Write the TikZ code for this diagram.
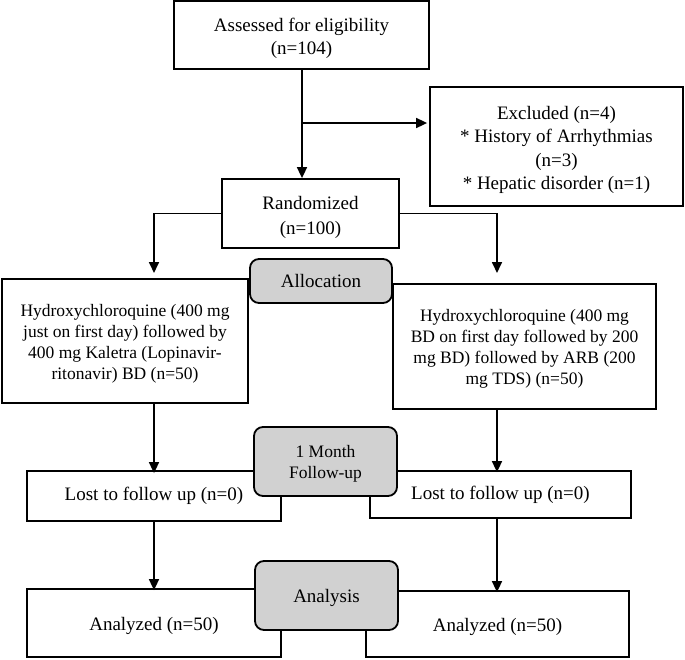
\documentclass[tikz,border=0pt]{standalone}
\usepackage{fontspec}
\setmainfont{Liberation Serif}
\usetikzlibrary{arrows.meta}
\newcommand\upA{\rule{0pt}{20pt}}
\newcommand\upB{\rule{0pt}{17.5pt}}
\begin{document}
\begin{tikzpicture}[x=1pt,y=-1pt,
  box/.style={draw=black,line width=1.8pt,fill=white,inner sep=0pt,align=center},
  stage/.style={draw=black,line width=1.8pt,fill=black!18,rounded corners=9pt,inner sep=0pt,align=center},
  bigtxt/.style={font=\fontsize{19}{23.5}\selectfont},
  smalltxt/.style={font=\fontsize{17.5}{21}\selectfont},
  arr/.style={line width=1.7pt,-{Triangle[length=11pt,width=10pt]}}]
\useasboundingbox (0,0) rectangle (685,659);
% white boxes
\node[box,bigtxt,minimum width=255pt,minimum height=68pt] (assess) at (301.5,35) {\upA Assessed for eligibility\\(n=104)};
\node[box,bigtxt,minimum width=253pt,minimum height=119pt] (excl) at (556.5,146.5) {\upA Excluded (n=4)\\* History of Arrhythmias\\(n=3)\\* Hepatic disorder (n=1)};
\node[box,font=\fontsize{19}{24.5}\selectfont,minimum width=177pt,minimum height=69pt] (rand) at (310.5,213.5) {\rule{0pt}{21pt}Randomized\\(n=100)};
\node[box,smalltxt,minimum width=246pt,minimum height=124pt] (hcqL) at (125,341) {\upB Hydroxychloroquine (400 mg\\just on first day) followed by\\400 mg Kaletra (Lopinavir-\\ritonavir) BD (n=50)};
\node[box,smalltxt,minimum width=263pt,minimum height=125pt] (hcqR) at (524.5,346.5) {\upB Hydroxychloroquine (400 mg\\BD on first day followed by 200\\mg BD) followed by ARB (200\\mg TDS) (n=50)};
\node[box,bigtxt,minimum width=254pt,minimum height=50pt] (lostL) at (154,496) {\raisebox{3pt}{Lost to follow up (n=0)}};
\node[box,bigtxt,minimum width=261pt,minimum height=47pt] (lostR) at (500.5,494.5) {\raisebox{2pt}{Lost to follow up (n=0)}};
\node[box,bigtxt,minimum width=254pt,minimum height=68pt] (anL) at (154,623) {\upA Analyzed (n=50)};
\node[box,bigtxt,minimum width=263pt,minimum height=66pt] (anR) at (497.5,624) {\upA Analyzed (n=50)};
% stage boxes
\node[stage,bigtxt,minimum width=142pt,minimum height=44pt] (alloc) at (321,281) {Allocation};
\node[stage,smalltxt,minimum width=143pt,minimum height=69pt] (fu) at (325.5,461.5) {\upB 1 Month\\Follow-up};
\node[stage,bigtxt,minimum width=143pt,minimum height=69pt] (anl) at (326.5,595.5) {\rule{0pt}{18pt}Analysis};
% connectors
\coordinate (a0) at (302,69);
\coordinate (br) at (302,123);
\coordinate (tl) at (154,273);
\coordinate (tr) at (497,273);
\draw[arr] (a0) -- (a0 |- rand.north);
\draw[arr] (br) -- ([xshift=-2pt]excl.west |- br);
\draw[arr] (rand.west) -| (tl);
\draw[arr] (rand.east) -| (tr);
\draw[arr] (tl |- hcqL.south) -- ([yshift=-3pt]tl |- lostL.north);
\draw[arr] (tr |- hcqR.south) -- ([yshift=-2pt]tr |- lostR.north);
\draw[arr] (tl |- lostL.south) -- ([yshift=-2pt]tl |- anL.north);
\draw[arr] (tr |- lostR.south) -- ([yshift=-2pt]tr |- anR.north);
\end{tikzpicture}
\end{document}
